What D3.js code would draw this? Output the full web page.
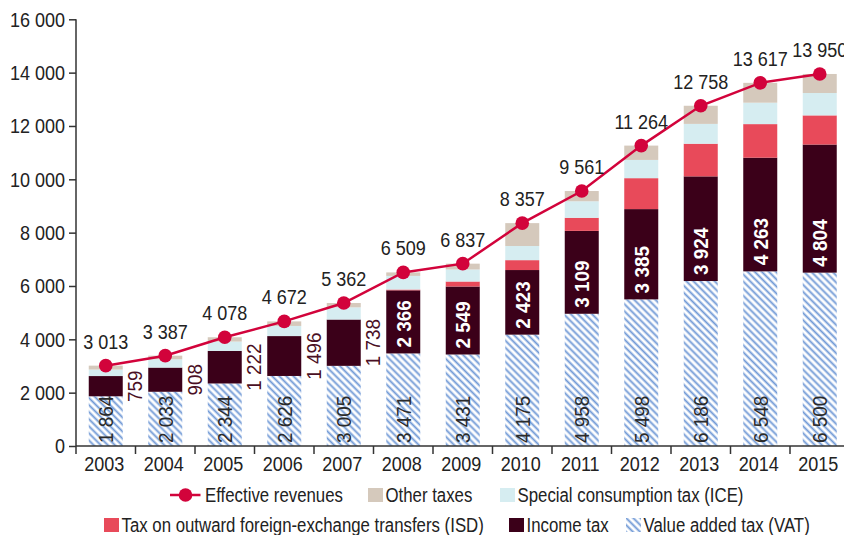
<!DOCTYPE html>
<html>
<head>
<meta charset="utf-8">
<script src="https://cdn.jsdelivr.net/npm/d3@7"></script>
<style>
  body { margin: 0; background: #fff; }
  svg text { font-family: "Liberation Sans", Arial, sans-serif; fill: #222; }
</style>
</head>
<body>
<div id="chart"></div>
<script>
var width = 844,
    height = 535;

// values (millions USD)
var years = ["2003", "2004", "2005", "2006", "2007", "2008", "2009", "2010", "2011", "2012", "2013", "2014", "2015"];
var vat = [1864, 2033, 2344, 2626, 3005, 3471, 3431, 4175, 4958, 5498, 6186, 6548, 6500];
var income = [759, 908, 1222, 1496, 1738, 2366, 2549, 2423, 3109, 3385, 3924, 4263, 4804];
var isd = [0, 0, 0, 0, 0, 31, 188, 371, 491, 1160, 1225, 1259, 1093];
var ice = [243, 310, 350, 380, 456, 510, 450, 530, 618, 684, 743, 803, 839];
var other = [147, 136, 162, 170, 163, 131, 219, 858, 385, 537, 680, 744, 714];
var effective = [3013, 3387, 4078, 4672, 5362, 6509, 6837, 8357, 9561, 11264, 12758, 13617, 13950];
var yTicks = [0, 2000, 4000, 6000, 8000, 10000, 12000, 14000, 16000];

var keys = ["vat", "income", "isd", "ice", "other"];
var colors = {
  vat: "url(#hatch)",
  income: "#3b0019",
  isd: "#e84a5a",
  ice: "#d6edf1",
  other: "#d5c9bc"
};
var lineColor = "#d2033b";

var rows = years.map(function(y, i) {
  return { year: y, vat: vat[i], income: income[i], isd: isd[i], ice: ice[i], other: other[i], total: effective[i] };
});

var fmt = function(v) { return d3.format(",")(v).replace(/,/g, " "); };

var svg = d3.select("#chart").append("svg")
    .attr("width", width)
    .attr("height", height);

var defs = svg.append("defs");
var pat = defs.append("pattern")
    .attr("id", "hatch")
    .attr("patternUnits", "userSpaceOnUse")
    .attr("width", 5)
    .attr("height", 5)
    .attr("patternTransform", "rotate(-45)");
pat.append("rect").attr("width", 5).attr("height", 5).attr("fill", "#fff");
pat.append("line")
    .attr("x1", 1.5).attr("y1", 0).attr("x2", 1.5).attr("y2", 5)
    .attr("stroke", "#7099d6")
    .attr("stroke-width", 1.9);

var x = d3.scaleBand()
    .domain(years)
    .range([76, 849.5]);

var barW = 34;

var y = d3.scaleLinear()
    .domain([0, 16000])
    .range([446, 19.3]);

var stack = d3.stack().keys(keys);
var series = stack(rows);

var g = svg.append("g");

g.selectAll("g.layer")
    .data(series)
  .enter().append("g")
    .attr("class", "layer")
    .attr("fill", function(d) { return colors[d.key]; })
  .selectAll("rect")
    .data(function(d) { return d; })
  .enter().append("rect")
    .attr("x", function(d) { return x(d.data.year) + (x.bandwidth() - barW) / 2; })
    .attr("width", barW)
    .attr("y", function(d) { return y(d[1]); })
    .attr("height", function(d) { return y(d[0]) - y(d[1]); });

// y axis
var yAxis = d3.axisLeft(y)
    .tickValues(yTicks)
    .tickFormat(fmt)
    .tickSize(7)
    .tickPadding(4);

var ya = svg.append("g")
    .attr("transform", "translate(76,0)")
    .call(yAxis);
ya.select(".domain").remove();
ya.selectAll(".tick line").attr("stroke", "#333").attr("stroke-width", 1.5);
ya.selectAll(".tick text").style("font-size", "20px").attr("dy", "0.34em");
ya.append("line")
    .attr("x1", 0).attr("x2", 0)
    .attr("y1", y(16000)).attr("y2", 454)
    .attr("stroke", "#333").attr("stroke-width", 1.5);

// x axis
var xa = svg.append("g");
xa.append("line")
    .attr("x1", 76).attr("x2", 849)
    .attr("y1", 446).attr("y2", 446)
    .attr("stroke", "#333").attr("stroke-width", 1.5);
xa.selectAll("line.sep")
    .data(years.slice(1))
  .enter().append("line")
    .attr("class", "sep")
    .attr("x1", function(d) { return x(d); })
    .attr("x2", function(d) { return x(d); })
    .attr("y1", 446).attr("y2", 454)
    .attr("stroke", "#333").attr("stroke-width", 1.5);
xa.selectAll("text")
    .data(years)
  .enter().append("text")
    .attr("x", function(d) { return x(d) + x.bandwidth() / 2 - 1.5; })
    .attr("y", 471)
    .attr("text-anchor", "middle")
    .style("font-size", "20px")
    .text(function(d) { return d; });

// VAT labels at the bottom of each bar
g.selectAll("text.vat")
    .data(rows)
  .enter().append("text")
    .attr("class", "vat")
    .attr("transform", function(d) {
      return "translate(" + (x(d.year) + x.bandwidth() / 2) + ",443)rotate(-90)";
    })
    .attr("dominant-baseline", "central")
    .style("font-size", "21px")
    .style("fill", "#2a2a2a")
    .text(function(d) { return fmt(d.vat); });

// income tax labels
g.selectAll("text.inc")
    .data(rows)
  .enter().append("text")
    .attr("class", "inc")
    .attr("transform", function(d) {
      var cx = x(d.year) + x.bandwidth() / 2;
      if (d.income < 2000) {
        var mid = (y(d.vat) + y(d.vat + d.income)) / 2;
        return "translate(" + (cx + barW / 2 + 12) + "," + mid + ")rotate(-90)";
      }
      return "translate(" + cx + "," + (y(d.vat) - 6) + ")rotate(-90)";
    })
    .attr("text-anchor", function(d) { return d.income < 2000 ? "middle" : "start"; })
    .attr("dominant-baseline", "central")
    .style("font-size", "21px")
    .style("font-weight", function(d) { return d.income < 2000 ? "normal" : "bold"; })
    .style("fill", function(d) { return d.income < 2000 ? "#4a0f24" : "#fff"; })
    .text(function(d) { return fmt(d.income); });

// effective revenues line
var line = d3.line()
    .x(function(d) { return x(d.year) + x.bandwidth() / 2; })
    .y(function(d) { return y(d.total); });

g.append("path")
    .datum(rows)
    .attr("d", line)
    .attr("fill", "none")
    .attr("stroke", lineColor)
    .attr("stroke-width", 2.5);

g.selectAll("circle.pt")
    .data(rows)
  .enter().append("circle")
    .attr("class", "pt")
    .attr("cx", function(d) { return x(d.year) + x.bandwidth() / 2; })
    .attr("cy", function(d) { return y(d.total); })
    .attr("r", 6.8)
    .attr("fill", lineColor);

g.selectAll("text.tot")
    .data(rows)
  .enter().append("text")
    .attr("class", "tot")
    .attr("x", function(d) { return x(d.year) + x.bandwidth() / 2; })
    .attr("y", function(d) { return y(d.total) - 17; })
    .attr("text-anchor", "middle")
    .style("font-size", "20px")
    .text(function(d) { return fmt(d.total); });

// legend
var legend = svg.append("g").style("font-size", "20px");

var l1 = legend.append("g");
l1.append("line")
    .attr("x1", 170).attr("x2", 200.5)
    .attr("y1", 495).attr("y2", 495)
    .attr("stroke", lineColor).attr("stroke-width", 2.5);
l1.append("circle")
    .attr("cx", 185.5).attr("cy", 495).attr("r", 6.8)
    .attr("fill", lineColor);
l1.append("text").attr("class", "lg").attr("x", 205).attr("y", 495).attr("dy", "0.35em").text("Effective revenues");

var items = [
  { key: "other", label: "Other taxes", x: 368, y: 495 },
  { key: "ice", label: "Special consumption tax (ICE)", x: 500, y: 495 },
  { key: "isd", label: "Tax on outward foreign-exchange transfers (ISD)", x: 104, y: 525 },
  { key: "income", label: "Income tax", x: 509, y: 525 },
  { key: "vat", label: "Value added tax (VAT)", x: 626, y: 525 }
];

var li = legend.selectAll("g.item")
    .data(items)
  .enter().append("g")
    .attr("class", "item");
li.append("rect")
    .attr("x", function(d) { return d.x; })
    .attr("y", function(d) { return d.y - 7; })
    .attr("width", 15)
    .attr("height", 14)
    .attr("fill", function(d) { return colors[d.key]; });
li.append("text")
    .attr("class", "lg")
    .attr("x", function(d) { return d.x + 17.5; })
    .attr("y", function(d) { return d.y; })
    .attr("dy", "0.35em")
    .text(function(d) { return d.label; });

// the original uses a condensed face: squeeze the glyphs horizontally
svg.selectAll("text").each(function() {
  var k = this.getAttribute("class") === "lg" ? 0.84 : 0.9;
  var w = this.getComputedTextLength();
  d3.select(this)
    .attr("textLength", w * k)
    .attr("lengthAdjust", "spacingAndGlyphs");
});
</script>
</body>
</html>
